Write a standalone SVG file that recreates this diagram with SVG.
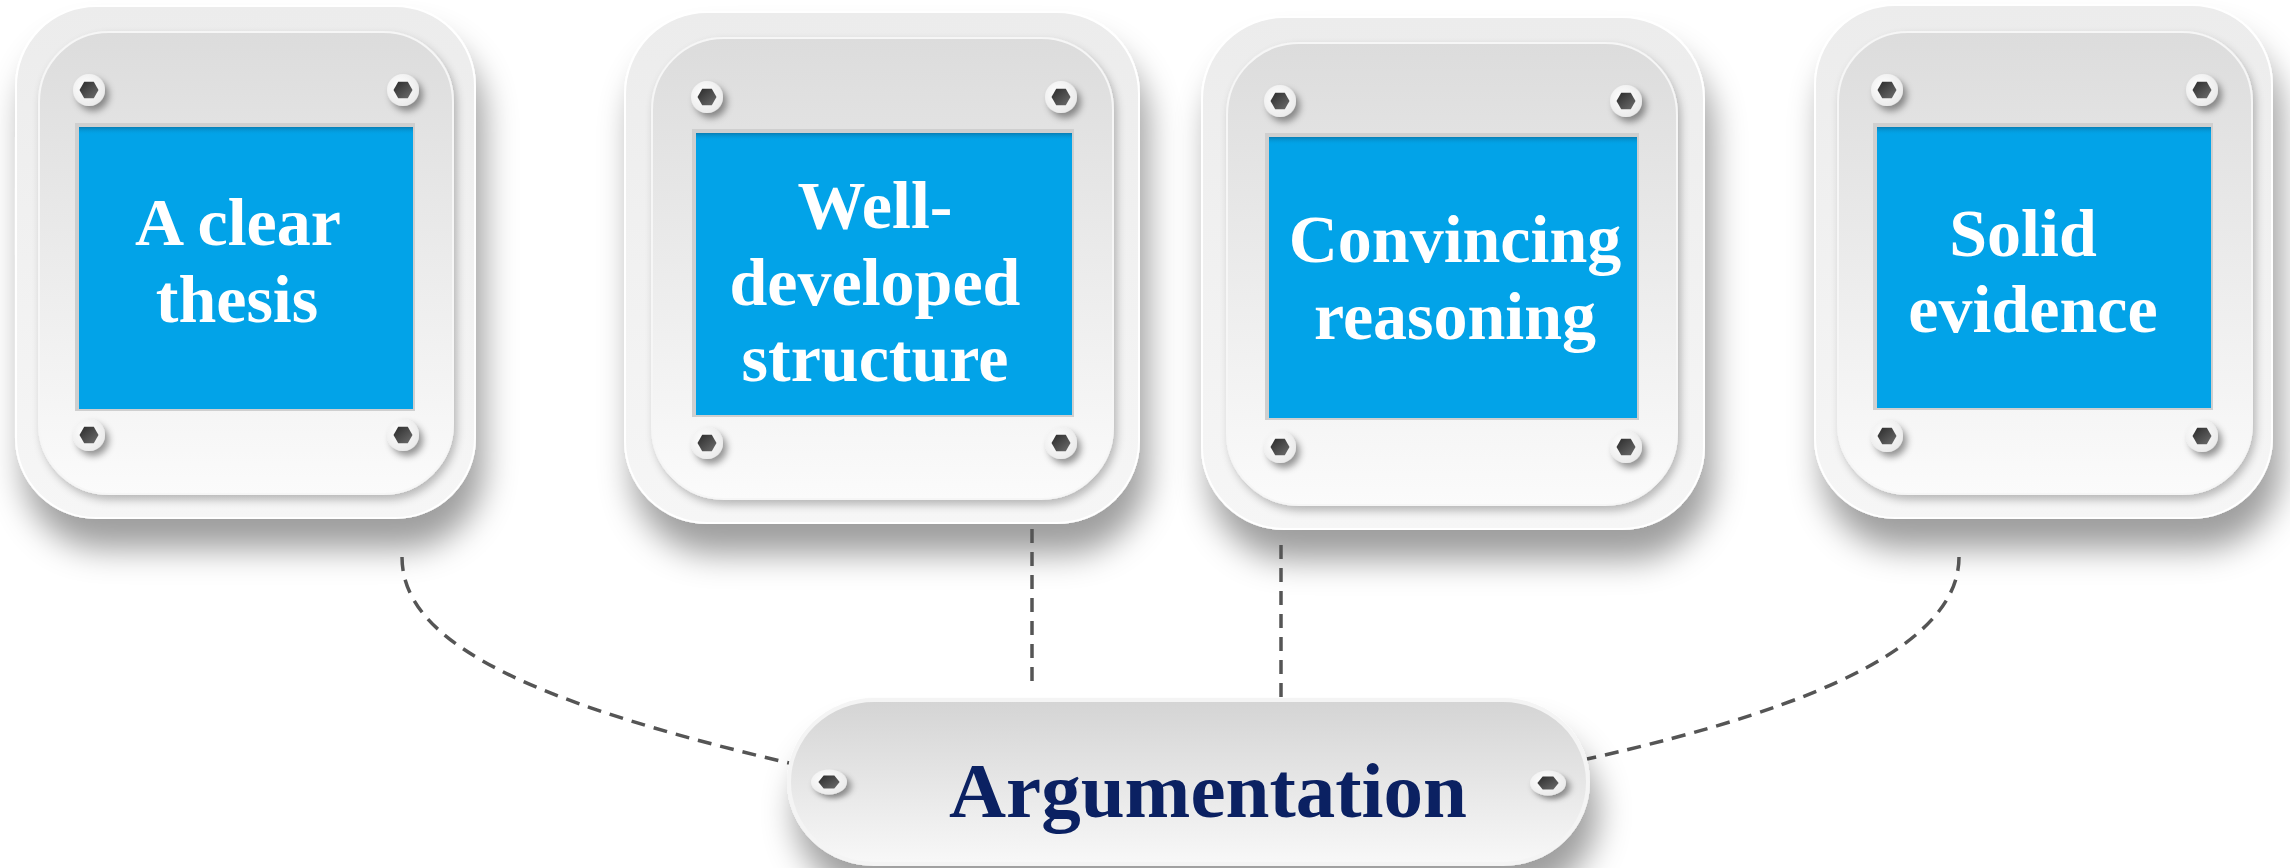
<svg xmlns="http://www.w3.org/2000/svg" xmlns:xlink="http://www.w3.org/1999/xlink" width="2290" height="868" viewBox="0 0 2290 868">
<style>
.lbl{font-family:"Liberation Serif","Times New Roman",serif;font-weight:bold;font-size:68px;fill:#ffffff;text-anchor:middle}
.main{font-family:"Liberation Serif","Times New Roman",serif;font-weight:bold;font-size:79px;fill:#0B2162;text-anchor:middle}
.dash{fill:none;stroke:#555555;stroke-width:3.5;stroke-dasharray:14 9}
.outer{fill:url(#outerG);stroke:#ffffff;stroke-width:2;filter:url(#bigSh)}
.inner{fill:url(#innerG);stroke:#f6f6f6;stroke-width:2;filter:url(#midSh)}
.frame{fill:#cfcfcf}
.blue{fill:#02A3E8}
.bluetop{fill:url(#blueTop)}
</style>
<defs>
<linearGradient id="outerG" x1="0" y1="0" x2="0" y2="1">
<stop offset="0" stop-color="#ececec"/><stop offset="1" stop-color="#f6f6f6"/>
</linearGradient>
<linearGradient id="innerG" x1="0" y1="0" x2="0" y2="1">
<stop offset="0" stop-color="#dcdcdc"/><stop offset="1" stop-color="#fbfbfb"/>
</linearGradient>
<linearGradient id="pillG" x1="0" y1="0" x2="0" y2="1">
<stop offset="0" stop-color="#d4d4d4"/><stop offset="1" stop-color="#f8f8f8"/>
</linearGradient>
<linearGradient id="blueTop" x1="0" y1="0" x2="0" y2="1">
<stop offset="0" stop-color="#0a6e9e" stop-opacity="0.7"/><stop offset="1" stop-color="#02A3E8" stop-opacity="0"/>
</linearGradient>
<radialGradient id="ringG" cx="0.4" cy="0.4" r="0.7">
<stop offset="0" stop-color="#ffffff"/><stop offset="1" stop-color="#e8e8e8"/>
</radialGradient>
<linearGradient id="hexG" x1="0" y1="0" x2="1" y2="1">
<stop offset="0" stop-color="#2a2a2a"/><stop offset="1" stop-color="#6e6e6e"/>
</linearGradient>
<filter id="bigSh" x="-20%" y="-20%" width="145%" height="155%">
<feGaussianBlur in="SourceAlpha" stdDeviation="16"/>
<feOffset dx="8" dy="30" result="b"/>
<feFlood flood-color="#000000" flood-opacity="0.38"/>
<feComposite in2="b" operator="in"/>
<feMerge><feMergeNode/><feMergeNode in="SourceGraphic"/></feMerge>
</filter>
<filter id="midSh" x="-10%" y="-10%" width="125%" height="125%">
<feGaussianBlur in="SourceAlpha" stdDeviation="4"/>
<feOffset dx="3" dy="5" result="b"/>
<feFlood flood-color="#000000" flood-opacity="0.25"/>
<feComposite in2="b" operator="in"/>
<feMerge><feMergeNode/><feMergeNode in="SourceGraphic"/></feMerge>
</filter>
<filter id="scrSh" x="-60%" y="-60%" width="240%" height="240%">
<feGaussianBlur in="SourceAlpha" stdDeviation="3.5"/>
<feOffset dx="4" dy="5" result="b"/>
<feFlood flood-color="#000000" flood-opacity="0.4"/>
<feComposite in2="b" operator="in"/>
<feMerge><feMergeNode/><feMergeNode in="SourceGraphic"/></feMerge>
</filter>
<g id="screw">
<circle r="16" fill="url(#ringG)" filter="url(#scrSh)"/>
<polygon points="9.5,0 4.75,8.2 -4.75,8.2 -9.5,0 -4.75,-8.2 4.75,-8.2" fill="url(#hexG)"/>
</g>
</defs>
<rect width="2290" height="868" fill="#ffffff"/>

<g id="node-thesis">
<rect class="outer" x="16" y="6" width="459" height="512" rx="80"/>
<rect class="inner" x="39" y="32" width="414" height="462" rx="70"/>
<rect class="frame" x="75" y="123" width="340" height="288"/>
<rect class="blue" x="79" y="127" width="334" height="282"/>
<rect class="bluetop" x="79" y="127" width="334" height="8"/>
<use xlink:href="#screw" x="89" y="90"/><use xlink:href="#screw" x="403" y="90"/>
<use xlink:href="#screw" x="89" y="435"/><use xlink:href="#screw" x="403" y="435"/>
<text class="lbl" x="238" y="245">A clear</text>
<text class="lbl" x="237" y="322">thesis</text>
</g>

<g id="node-structure">
<rect class="outer" x="625" y="12" width="514" height="511" rx="82"/>
<rect class="inner" x="652" y="38" width="461" height="461" rx="72"/>
<rect class="frame" x="692" y="129" width="382" height="288"/>
<rect class="blue" x="696" y="133" width="376" height="282"/>
<rect class="bluetop" x="696" y="133" width="376" height="8"/>
<use xlink:href="#screw" x="707" y="97"/><use xlink:href="#screw" x="1061" y="97"/>
<use xlink:href="#screw" x="707" y="443"/><use xlink:href="#screw" x="1061" y="443"/>
<text class="lbl" x="875" y="228">Well-</text>
<text class="lbl" x="875" y="305">developed</text>
<text class="lbl" x="875" y="381">structure</text>
</g>

<g id="node-reasoning">
<rect class="outer" x="1202" y="17" width="502" height="512" rx="82"/>
<rect class="inner" x="1227" y="43" width="450" height="462" rx="72"/>
<rect class="frame" x="1265" y="133" width="374" height="287"/>
<rect class="blue" x="1269" y="137" width="368" height="281"/>
<rect class="bluetop" x="1269" y="137" width="368" height="8"/>
<use xlink:href="#screw" x="1280" y="101"/><use xlink:href="#screw" x="1626" y="101"/>
<use xlink:href="#screw" x="1280" y="447"/><use xlink:href="#screw" x="1626" y="447"/>
<text class="lbl" x="1455" y="262">Convincing</text>
<text class="lbl" x="1455" y="339">reasoning</text>
</g>

<g id="node-evidence">
<rect class="outer" x="1815" y="5" width="457" height="513" rx="80"/>
<rect class="inner" x="1838" y="32" width="414" height="462" rx="70"/>
<rect class="frame" x="1873" y="123" width="340" height="287"/>
<rect class="blue" x="1877" y="127" width="334" height="281"/>
<rect class="bluetop" x="1877" y="127" width="334" height="8"/>
<use xlink:href="#screw" x="1887" y="90"/><use xlink:href="#screw" x="2202" y="90"/>
<use xlink:href="#screw" x="1887" y="436"/><use xlink:href="#screw" x="2202" y="436"/>
<text class="lbl" x="2023" y="256">Solid</text>
<text class="lbl" x="2033" y="332">evidence</text>
</g>

<g id="connectors">
<path class="dash" d="M402 557 C402 640 520 700 789 763"/>
<path class="dash" d="M1032 529 V689"/>
<path class="dash" d="M1281 545 V698"/>
<path class="dash" d="M1959 557 C1959 640 1830 705 1587 759"/>
</g>

<g id="node-argumentation">
<rect x="789" y="700" width="799" height="164" rx="85" ry="82" fill="url(#pillG)" stroke="#f4f4f4" stroke-width="4" filter="url(#bigSh)"/>
<g transform="translate(829 782) scale(1.12 0.78)"><use xlink:href="#screw"/></g>
<g transform="translate(1548 783) scale(1.12 0.78)"><use xlink:href="#screw"/></g>
<text class="main" x="1208" y="817">Argumentation</text>
</g>
</svg>
